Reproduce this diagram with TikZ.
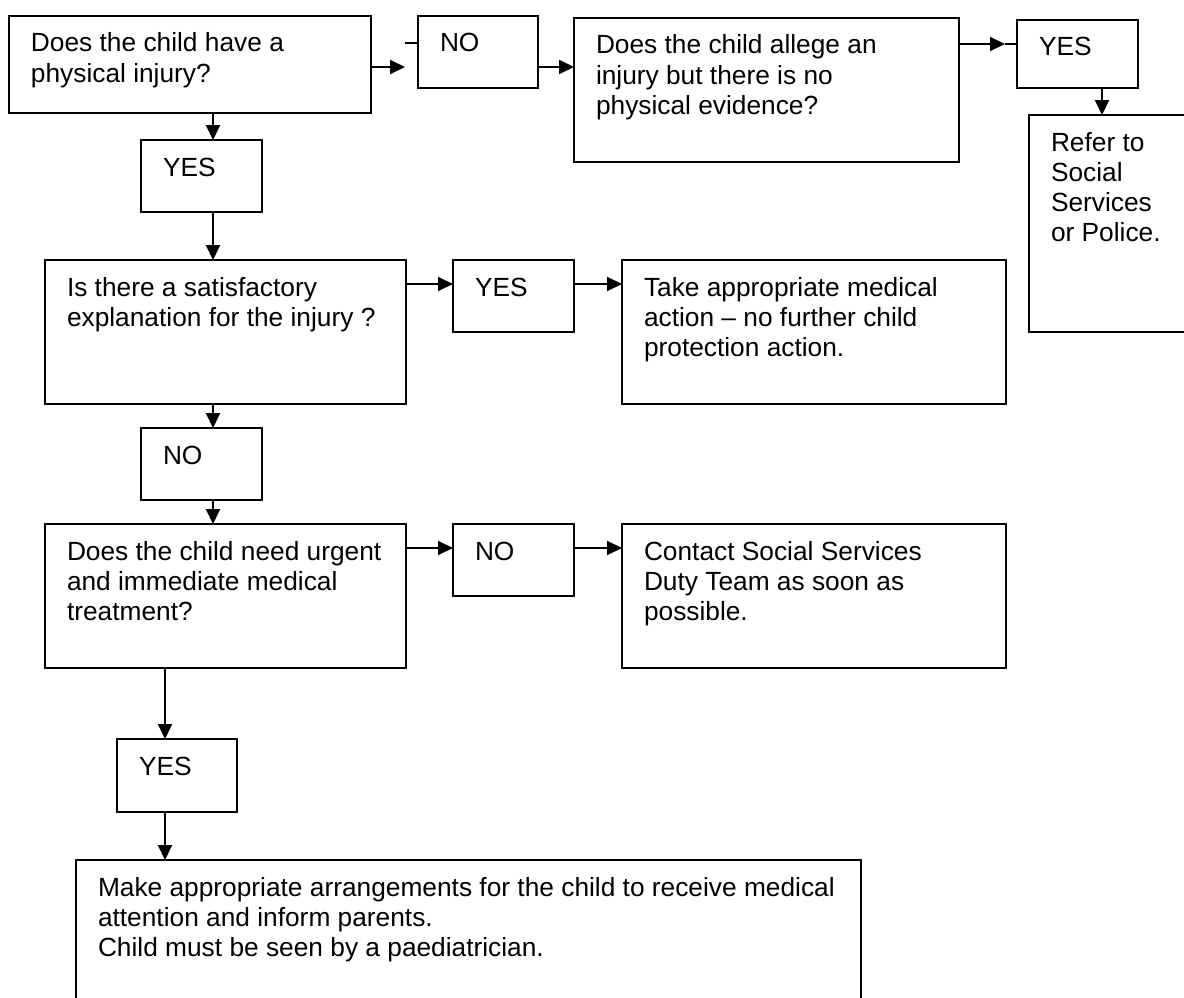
\documentclass[tikz,border=0pt]{standalone}
\usepackage{fontspec}
\setmainfont{Liberation Sans}
\usetikzlibrary{arrows.meta}
\newcommand\bxt[3]{\parbox[t][#2pt][t]{#1pt}{\raggedright\leftskip=22pt\relax\rule{0pt}{36pt}#3}}
\begin{document}
\begin{tikzpicture}[x=1pt,y=-1pt,
  font=\fontsize{26.3}{30.2}\selectfont,
  box/.style={draw, line width=2pt, inner sep=0pt, outer sep=0pt, anchor=north west},
  arr/.style={line width=2pt, -{Triangle[length=15pt,width=14pt]}},
  ln/.style={line width=2pt}]
\useasboundingbox (0,0) rectangle (1184,998);
\fill[white] (0,0) rectangle (1184,998);
\clip (0,0) rectangle (1184,998);

% boxes
\node[box] (b1) at (9,16)    {\bxt{362}{97}{Does the child have a\\physical injury?}};
\node[box] (n1) at (418,16)  {\bxt{120}{72}{NO}};
\node[box] (b3) at (574,18)  {\bxt{385}{144}{Does the child allege an\\injury but there is no\\physical evidence?}};
\node[box] (y2) at (1017,20) {\bxt{121}{68}{YES}};
\node[box] (b5) at (1029,115){\bxt{170}{217}{Refer to\\Social\\Services\\or Police.}};
\node[box] (y1) at (141,140) {\bxt{121}{72}{YES}};
\node[box] (b7) at (45,260)  {\bxt{361}{144}{Is there a satisfactory\\explanation for the injury ?}};
\node[box] (y3) at (453,260) {\bxt{121}{72}{YES}};
\node[box] (b9) at (622,260) {\bxt{384}{144}{Take appropriate medical\\action -- no further child\\protection action.}};
\node[box] (n2) at (141,428) {\bxt{121}{72}{NO}};
\node[box] (b11) at (45,524) {\bxt{361}{144}{Does the child need urgent\\and immediate medical\\treatment?}};
\node[box] (n3) at (453,524) {\bxt{121}{72}{NO}};
\node[box] (b13) at (622,524){\bxt{384}{144}{Contact Social Services\\Duty Team as soon as\\possible.}};
\node[box] (y4) at (117,739) {\bxt{120}{73}{YES}};
\node[box] (b15) at (76,860) {\bxt{785}{160}{Make appropriate arrangements for the child to receive medical\\attention and inform parents.\\Child must be seen by a paediatrician.}};

% free ends
\coordinate (g1) at (405,67);
\coordinate (d1) at (405,43);
\coordinate (g2) at (1005,44);

% connectors
\draw[arr] (b1.east |- g1) -- (g1);
\draw[ln] (d1) -- (n1.west |- d1);
\draw[arr] (n1.east |- 0,67) -- (b3.west |- 0,67);
\draw[arr] (b3.east |- g2) -- (g2);
\draw[ln] (g2) -- (y2.west |- g2);
\draw[arr] (y2.south -| 1102,0) -- (b5.north -| 1102,0);
\draw[arr] (b1.south -| 213,0) -- (y1.north -| 213,0);
\draw[arr] (y1.south -| 213,0) -- (b7.north -| 213,0);
\draw[arr] (b7.east |- 0,284) -- (y3.west |- 0,284);
\draw[arr] (y3.east |- 0,284) -- (b9.west |- 0,284);
\draw[arr] (b7.south -| 213,0) -- (n2.north -| 213,0);
\draw[arr] (n2.south -| 213,0) -- (b11.north -| 213,0);
\draw[arr] (b11.east |- 0,548) -- (n3.west |- 0,548);
\draw[arr] (n3.east |- 0,548) -- (b13.west |- 0,548);
\draw[arr] (b11.south -| 165,0) -- (y4.north -| 165,0);
\draw[arr] (y4.south -| 165,0) -- (b15.north -| 165,0);
\end{tikzpicture}
\end{document}
